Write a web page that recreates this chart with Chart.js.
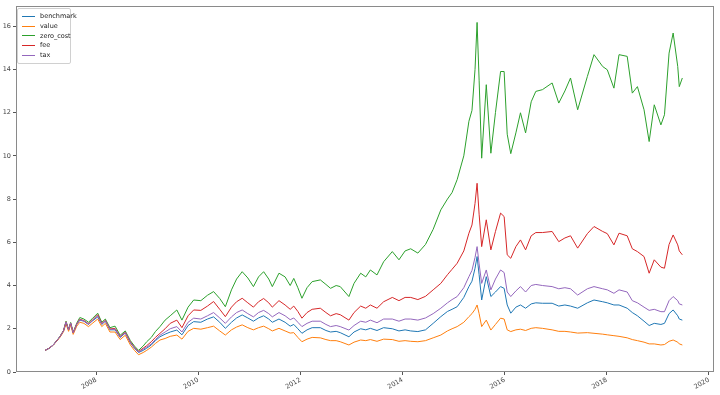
<!DOCTYPE html>
<html>
<head>
<meta charset="utf-8">
<script src="https://cdn.jsdelivr.net/npm/chart.js@4/dist/chart.umd.min.js"></script>
<style>
  html, body { margin: 0; padding: 0; background: #fff; }
  #wrap { position: relative; width: 720px; height: 395px; }
  #legenda {
    position: absolute; left: 17px; top: 8px; width: 54px;
    border: 1px solid #d0d0d0; border-radius: 2px; background: rgba(255,255,255,0.8);
    font-family: 'DejaVu Sans', sans-serif; font-size: 6.5px; color: #222;
    padding: 3px 0 2px 0; box-sizing: border-box;
  }
  #legenda div { height: 9.8px; line-height: 9.8px; white-space: nowrap; }
  #legenda span.traco { display: inline-block; width: 13px; height: 1px; vertical-align: middle; margin: 0 5px 0 4px; }
</style>
</head>
<body>
<div id="wrap">
  <canvas id="grafico" width="720" height="395"></canvas>
  <div id="legenda"></div>
</div>
<script>
var datas = [
  2007.00,2007.08,2007.16,2007.29,2007.36,2007.41,2007.46,2007.50,2007.55,2007.62,
  2007.68,2007.76,2007.85,2007.92,2008.03,2008.11,2008.18,2008.27,2008.37,2008.47,
  2008.57,2008.67,2008.75,2008.83,2008.92,2008.99,2009.08,2009.16,2009.25,2009.35,
  2009.45,2009.58,2009.68,2009.80,2009.91,2010.05,2010.18,2010.30,2010.42,2010.53,
  2010.65,2010.75,2010.86,2010.97,2011.08,2011.18,2011.28,2011.38,2011.45,2011.58,
  2011.70,2011.80,2011.87,2011.95,2012.03,2012.13,2012.23,2012.39,2012.50,2012.59,
  2012.70,2012.78,2012.95,2013.05,2013.18,2013.28,2013.37,2013.50,2013.63,2013.80,
  2013.93,2014.05,2014.16,2014.30,2014.45,2014.60,2014.75,2014.88,2014.97,2015.07,
  2015.20,2015.30,2015.36,2015.42,2015.46,2015.50,2015.55,2015.64,2015.73,2015.82,
  2015.92,2015.99,2016.05,2016.12,2016.22,2016.31,2016.41,2016.52,2016.61,2016.74,
  2016.93,2017.06,2017.18,2017.29,2017.43,2017.62,2017.75,2017.92,2018.01,2018.14,
  2018.24,2018.40,2018.50,2018.60,2018.73,2018.83,2018.93,2019.06,2019.13,2019.22,
  2019.30,2019.39,2019.42,2019.48
];

var benchmark = [
  1.00,1.10,1.25,1.63,1.90,2.30,1.94,2.25,1.80,2.20,
  2.40,2.35,2.20,2.35,2.55,2.20,2.35,1.95,1.95,1.60,
  1.80,1.35,1.10,0.90,1.00,1.10,1.25,1.45,1.63,1.75,
  1.85,1.94,1.72,2.15,2.33,2.30,2.45,2.55,2.30,2.02,
  2.30,2.50,2.64,2.50,2.35,2.50,2.60,2.45,2.30,2.45,
  2.30,2.12,2.20,2.00,1.79,1.95,2.05,2.05,1.92,1.85,
  1.88,1.82,1.63,1.85,2.00,1.95,2.02,1.92,2.05,2.00,
  1.90,1.95,1.90,1.87,1.95,2.25,2.56,2.80,2.90,3.02,
  3.45,3.95,4.20,4.80,5.34,4.50,3.33,4.41,3.49,3.70,
  3.95,3.87,3.10,2.72,3.00,3.10,2.95,3.15,3.20,3.18,
  3.18,3.05,3.10,3.05,2.95,3.20,3.33,3.25,3.20,3.10,
  3.10,2.95,2.75,2.60,2.35,2.15,2.25,2.20,2.25,2.70,
  2.87,2.60,2.45,2.40
];

var value = [
  1.00,1.10,1.24,1.60,1.86,2.22,1.88,2.18,1.74,2.12,
  2.30,2.25,2.10,2.24,2.45,2.10,2.25,1.85,1.85,1.50,
  1.70,1.25,1.00,0.80,0.90,1.00,1.15,1.32,1.48,1.55,
  1.65,1.71,1.52,1.88,2.02,1.98,2.05,2.12,1.90,1.71,
  1.95,2.08,2.18,2.05,1.95,2.05,2.12,2.00,1.90,2.02,
  1.90,1.80,1.82,1.60,1.40,1.52,1.60,1.58,1.50,1.45,
  1.45,1.40,1.25,1.38,1.48,1.45,1.50,1.42,1.52,1.50,
  1.42,1.45,1.42,1.40,1.45,1.58,1.71,1.90,2.00,2.10,
  2.30,2.56,2.70,2.90,3.10,2.70,2.10,2.40,1.94,2.20,
  2.49,2.45,1.95,1.87,1.95,1.98,1.92,2.02,2.05,2.02,
  1.95,1.88,1.88,1.85,1.80,1.82,1.79,1.75,1.72,1.68,
  1.65,1.58,1.50,1.45,1.38,1.30,1.30,1.25,1.27,1.42,
  1.48,1.38,1.30,1.25
];

var zeroCost = [
  1.00,1.10,1.25,1.64,1.92,2.35,1.97,2.29,1.84,2.26,
  2.52,2.45,2.30,2.46,2.72,2.30,2.45,2.05,2.12,1.70,
  1.90,1.45,1.20,1.00,1.20,1.40,1.60,1.87,2.10,2.40,
  2.60,2.87,2.40,3.00,3.33,3.30,3.55,3.72,3.40,3.02,
  3.80,4.30,4.64,4.35,3.95,4.40,4.64,4.30,3.95,4.57,
  4.40,4.00,4.33,3.90,3.41,3.90,4.18,4.26,4.05,3.87,
  4.00,3.95,3.49,4.10,4.57,4.40,4.72,4.49,5.10,5.57,
  5.19,5.60,5.70,5.50,5.90,6.60,7.50,8.00,8.30,8.90,
  10.00,11.60,12.10,14.00,16.17,13.50,9.89,13.29,10.12,12.00,
  13.90,13.90,11.00,10.10,11.06,11.99,11.06,12.50,12.98,13.06,
  13.37,12.44,13.00,13.60,12.13,13.67,14.68,14.13,13.98,13.13,
  14.68,14.60,12.90,13.20,12.13,10.66,12.36,11.43,11.90,14.75,
  15.68,14.13,13.20,13.60
];

var fee = [
  1.00,1.10,1.25,1.63,1.91,2.32,1.95,2.27,1.82,2.22,
  2.44,2.38,2.23,2.38,2.65,2.24,2.39,1.99,2.02,1.64,
  1.84,1.39,1.14,0.95,1.10,1.22,1.40,1.60,1.79,2.00,
  2.25,2.40,2.05,2.60,2.87,2.85,3.05,3.26,2.90,2.56,
  3.00,3.25,3.41,3.20,3.00,3.25,3.40,3.20,3.00,3.30,
  3.10,2.90,3.05,2.80,2.49,2.75,2.90,2.95,2.75,2.60,
  2.70,2.65,2.40,2.75,3.05,2.95,3.10,2.95,3.25,3.45,
  3.30,3.45,3.45,3.35,3.50,3.80,4.10,4.50,4.75,5.03,
  5.60,6.42,6.80,7.80,8.73,7.30,5.80,7.04,5.65,6.50,
  7.35,7.19,5.42,5.26,5.80,6.11,5.65,6.30,6.45,6.45,
  6.50,6.03,6.20,6.30,5.73,6.40,6.73,6.50,6.40,5.88,
  6.42,6.30,5.70,5.57,5.34,4.57,5.19,4.85,4.80,5.90,
  6.34,5.88,5.60,5.42
];

var tax = [
  1.00,1.10,1.25,1.63,1.90,2.31,1.95,2.26,1.81,2.21,
  2.42,2.36,2.21,2.36,2.60,2.22,2.37,1.97,1.98,1.62,
  1.82,1.37,1.12,0.92,1.05,1.15,1.30,1.50,1.70,1.85,
  2.00,2.10,1.85,2.30,2.49,2.45,2.60,2.75,2.50,2.25,
  2.55,2.75,2.87,2.70,2.55,2.75,2.85,2.70,2.55,2.75,
  2.60,2.42,2.50,2.30,2.10,2.25,2.35,2.35,2.20,2.10,
  2.15,2.10,1.94,2.15,2.35,2.30,2.40,2.28,2.45,2.45,
  2.35,2.45,2.45,2.40,2.50,2.70,2.95,3.20,3.35,3.49,
  3.90,4.41,4.70,5.30,5.80,5.00,4.10,4.72,3.80,4.30,
  4.72,4.60,3.70,3.49,3.75,3.95,3.70,4.00,4.05,4.00,
  3.95,3.85,3.90,3.85,3.56,3.85,3.95,3.85,3.80,3.64,
  3.80,3.70,3.30,3.20,3.00,2.85,2.90,2.79,2.79,3.30,
  3.49,3.30,3.15,3.10
];

var nomes = ['benchmark', 'value', 'zero_cost', 'fee', 'tax'];
var series = [benchmark, value, zeroCost, fee, tax];
var cores = ['#1f77b4', '#ff7f0e', '#2ca02c', '#d62728', '#9467bd'];
var ticksX = [2008, 2010, 2012, 2014, 2016, 2018, 2020];
var ticksY = [0, 2, 4, 6, 8, 10, 12, 14, 16];

function MontaPontos(arr) {
    var pts = [];
    for (var i in arr) {
        pts.push({ x: datas[i], y: arr[i] });
    }
    return pts;
}

// moldura em volta da area do grafico (como o matplotlib)
var moldura = {
    id: 'moldura',
    afterDraw: function(chart) {
        var a = chart.chartArea;
        var ctx = chart.ctx;
        ctx.save();
        ctx.strokeStyle = '#8a8a8a';
        ctx.lineWidth = 1;
        ctx.strokeRect(a.left + 0.5, a.top + 0.5, a.right - a.left - 1, a.bottom - a.top - 1);
        ctx.restore();
    }
};

function MontaGrafico() {
    var datasets = [];
    var legenda = document.getElementById('legenda');
    for (var i = 0; i < series.length; i++) {
        datasets.push({
            label: nomes[i],
            data: MontaPontos(series[i]),
            borderColor: cores[i],
            borderWidth: 1,
            pointRadius: 0,
            fill: false,
            tension: 0,
            order: series.length - i
        });
        legenda.innerHTML += '<div><span class="traco" style="background:' + cores[i] + '"></span>' + nomes[i] + '</div>';
    }

    Chart.defaults.font.family = "'DejaVu Sans', sans-serif";
    Chart.defaults.font.size = 6.5;
    Chart.defaults.color = '#444';

    new Chart(document.getElementById('grafico'), {
        type: 'line',
        data: { datasets: datasets },
        options: {
            responsive: false,
            animation: false,
            layout: { padding: { left: 0, top: 6, right: 6, bottom: 0 } },
            plugins: { legend: { display: false }, tooltip: { enabled: false } },
            scales: {
                x: {
                    type: 'linear',
                    min: 2006.43,
                    max: 2020.1,
                    afterBuildTicks: function(scale) {
                        scale.ticks = ticksX.map(function(v) { return { value: v }; });
                    },
                    afterFit: function(scale) { scale.height = 23; },
                    ticks: {
                        minRotation: 30, maxRotation: 30, padding: 1,
                        callback: function(v) { return String(v); }
                    },
                    grid: { display: true, drawOnChartArea: false, drawTicks: true, tickLength: 3, color: '#555' },
                    border: { display: false }
                },
                y: {
                    min: 0,
                    max: 16.93,
                    afterBuildTicks: function(scale) {
                        scale.ticks = ticksY.map(function(v) { return { value: v }; });
                    },
                    afterFit: function(scale) { scale.width = 16; },
                    ticks: { padding: 2, callback: function(v) { return String(v); } },
                    grid: { display: true, drawOnChartArea: false, drawTicks: true, tickLength: 3, color: '#555' },
                    border: { display: false }
                }
            }
        },
        plugins: [moldura]
    });
}

MontaGrafico();
</script>
</body>
</html>
